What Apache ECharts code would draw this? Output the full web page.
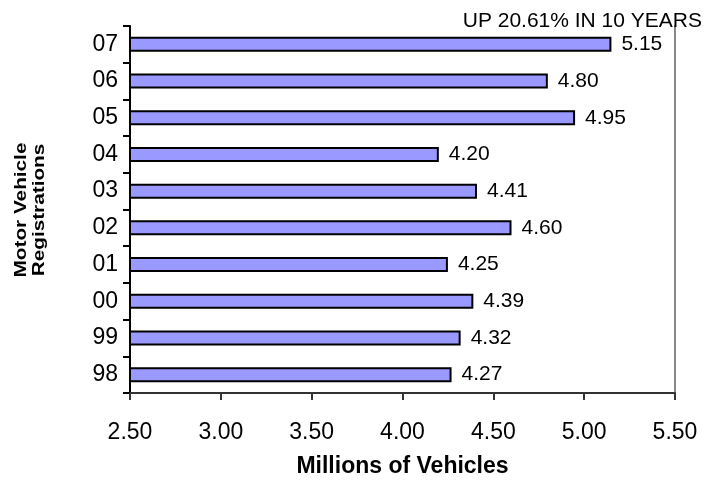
<!DOCTYPE html>
<html>
<head>
<meta charset="utf-8">
<script src="https://cdn.jsdelivr.net/npm/echarts@6/dist/echarts.min.js"></script>
<style>
  html, body { margin: 0; padding: 0; background: #fff; }
  #chart { width: 723px; height: 483px; }
</style>
</head>
<body>
<div id="chart"></div>
<script>
// data, bottom to top
var years = ['98', '99', '00', '01', '02', '03', '04', '05', '06', '07']
var registrations = [4.27, 4.32, 4.39, 4.25, 4.60, 4.41, 4.20, 4.95, 4.80, 5.15]
var headline = 'UP 20.61% IN 10 YEARS'
var xMin = 2.5
var xMax = 5.5
var xStep = 0.5

var font = '"Liberation Sans", Arial, sans-serif'
var chart = echarts.init(document.getElementById('chart'))

chart.setOption({
  animation: false,
  title: {
    text: headline,
    right: 16,
    top: 6,
    textStyle: { fontFamily: font, fontSize: 21, fontWeight: 'normal', color: '#000' }
  },
  grid: { left: 130, right: 48, top: 26, bottom: 89 },
  graphic: [{
    // y axis title, two lines, rotated
    type: 'text',
    x: 30,
    y: 210,
    rotation: Math.PI / 2,
    scaleX: 1.22,
    style: {
      text: 'Motor Vehicle\nRegistrations',
      font: 'bold 17px ' + font,
      fill: '#000',
      align: 'center',
      verticalAlign: 'middle',
      lineHeight: 18
    }
  }],
  xAxis: {
    type: 'value',
    min: xMin,
    max: xMax,
    interval: xStep,
    name: 'Millions of Vehicles',
    nameLocation: 'middle',
    nameGap: 62,
    nameTextStyle: { fontFamily: font, fontSize: 23, fontWeight: 'bold', color: '#000' },
    axisLine: { show: true, lineStyle: { color: '#333', width: 2 } },
    axisTick: { show: true, length: 7, lineStyle: { color: '#333', width: 2 } },
    axisLabel: {
      margin: 28,
      fontFamily: font,
      fontSize: 23,
      color: '#000',
      formatter: function (v) { return v.toFixed(2) }
    },
    splitLine: { show: false }
  },
  yAxis: [{
    type: 'category',
    data: years,
    axisLine: { show: true, lineStyle: { color: '#000', width: 2 } },
    axisTick: { show: true, length: 7, lineStyle: { color: '#000', width: 2 } },
    axisLabel: { margin: 12, fontFamily: font, fontSize: 23, color: '#000' },
    splitLine: { show: false }
  }, {
    type: 'category',
    data: years,
    position: 'right',
    axisLine: { show: true, lineStyle: { color: '#888', width: 2 } },
    axisTick: { show: false },
    axisLabel: { show: false }
  }],
  series: [{
    type: 'bar',
    data: registrations,
    barWidth: 15,
    itemStyle: { color: '#9999ff', borderColor: '#000', borderWidth: 2 },
    label: {
      show: true,
      position: 'right',
      distance: 10,
      fontFamily: font,
      fontSize: 21,
      color: '#000',
      formatter: function (p) { return p.value.toFixed(2) }
    }
  }]
})
</script>
</body>
</html>
